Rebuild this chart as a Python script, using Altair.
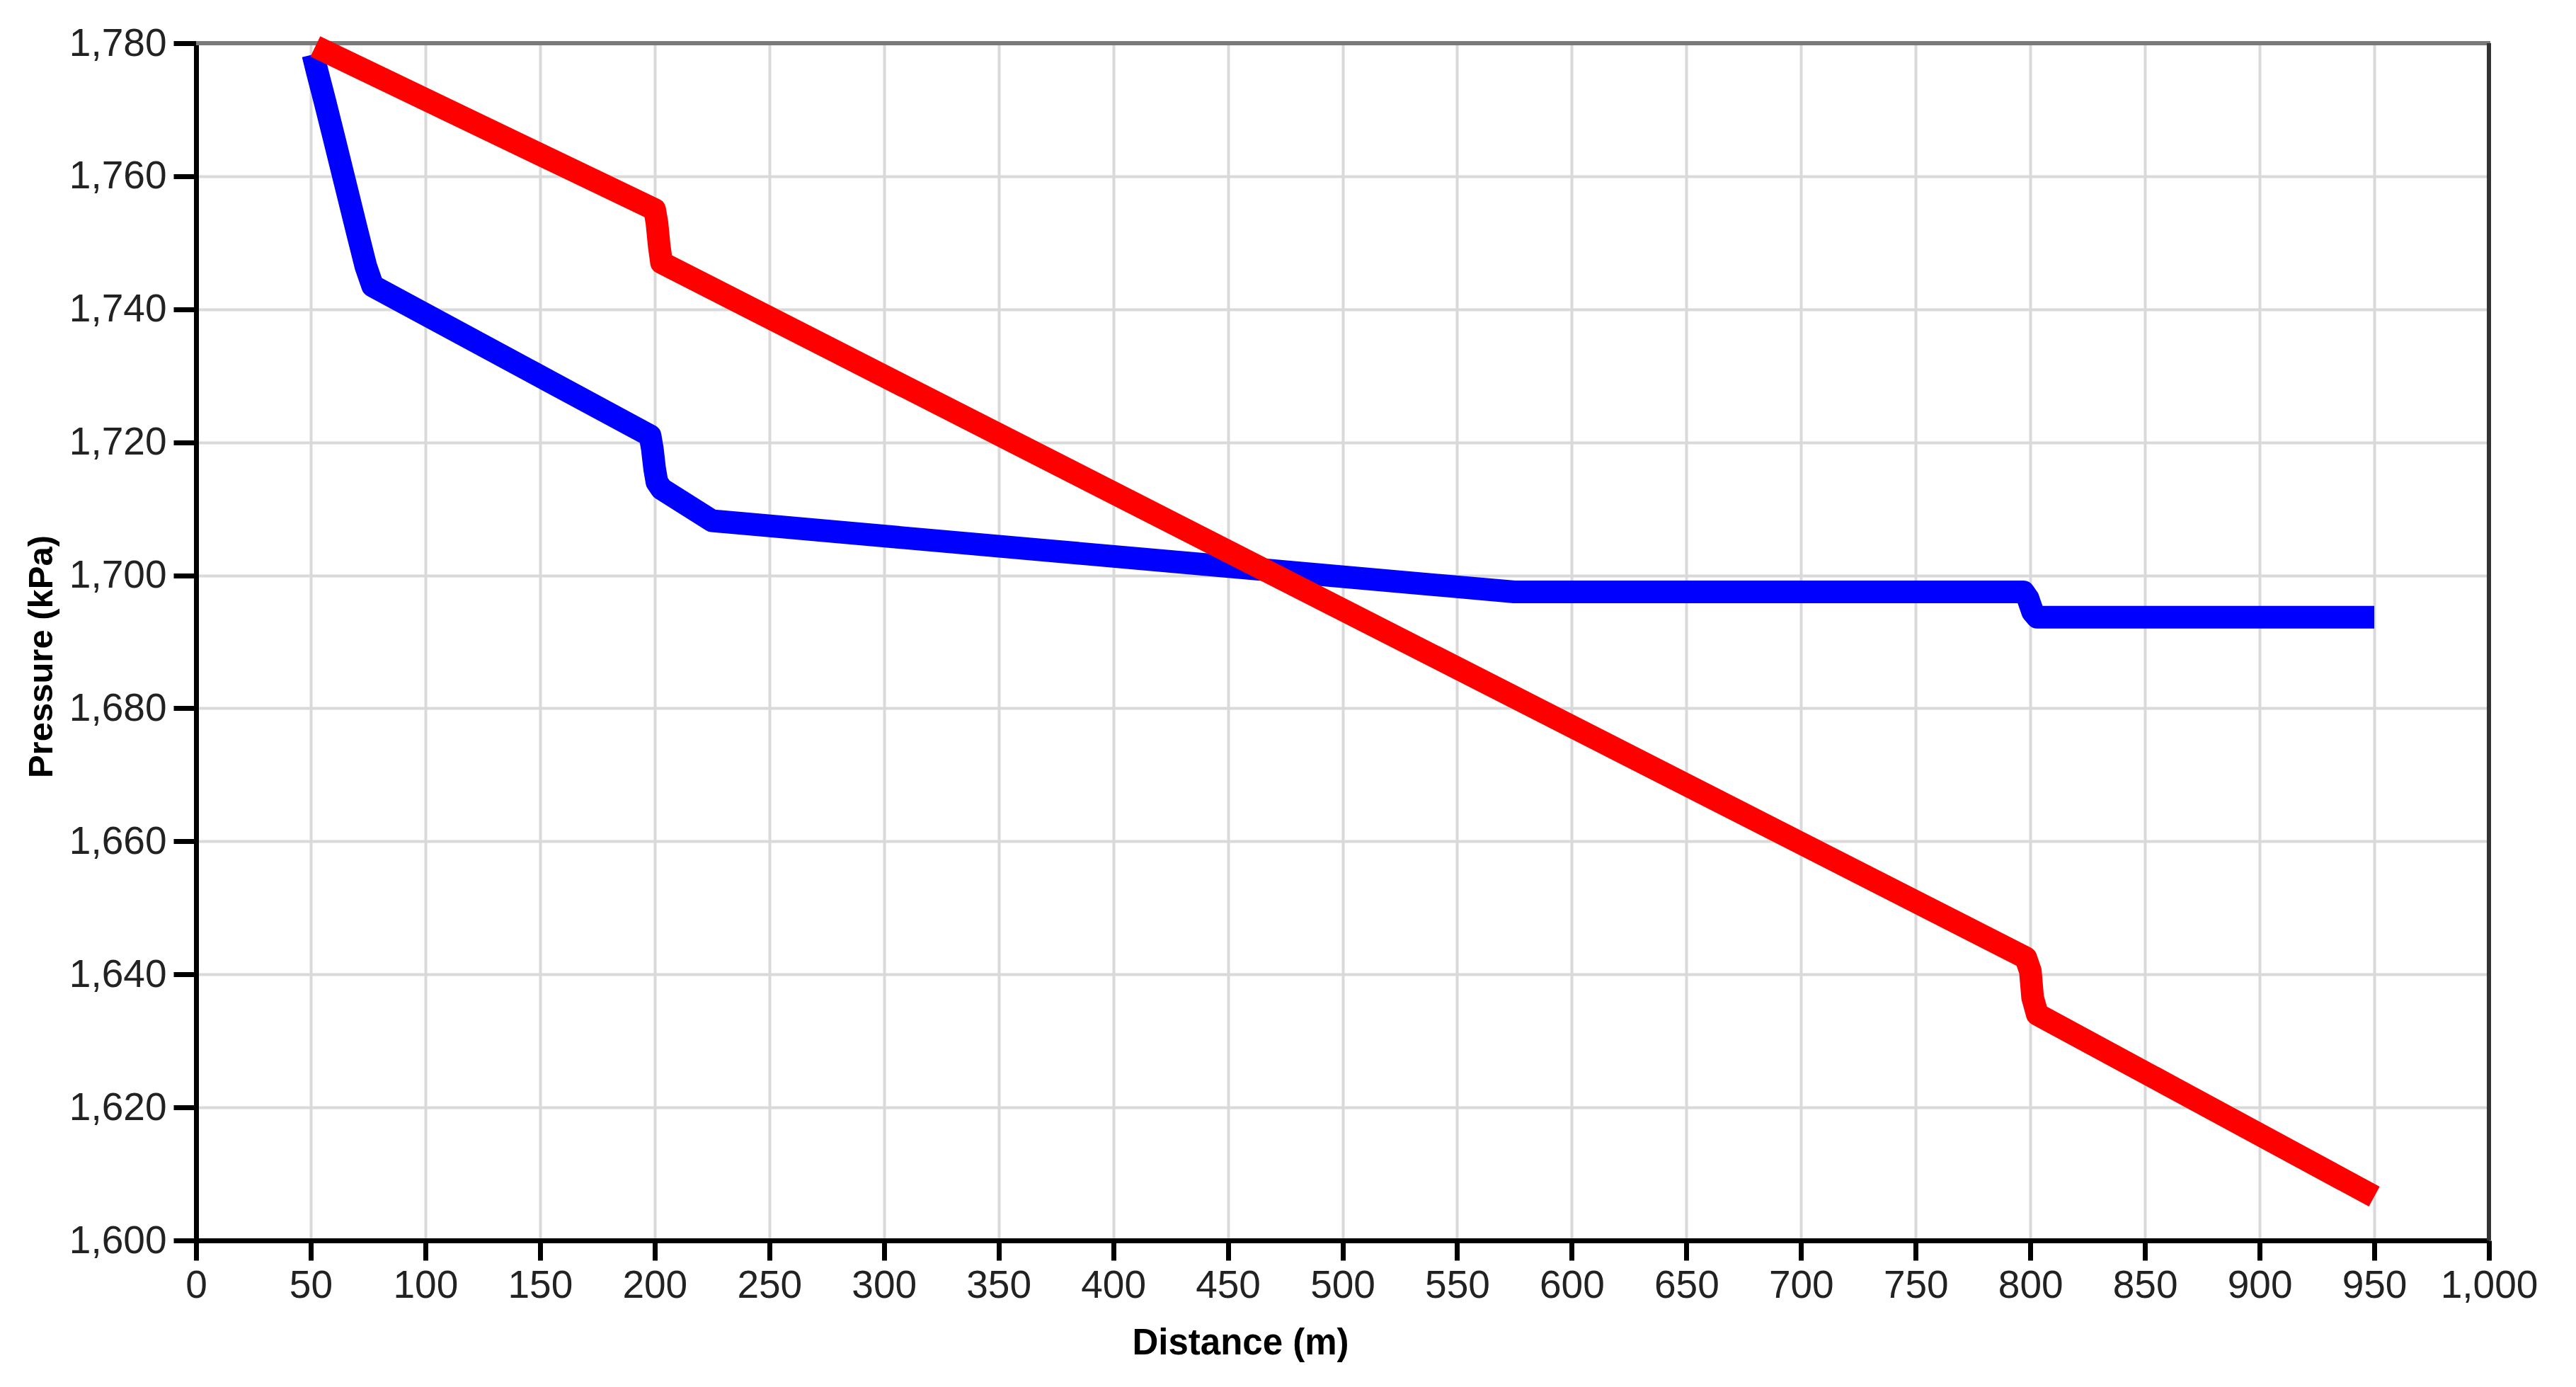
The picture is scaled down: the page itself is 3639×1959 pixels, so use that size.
import altair as alt
import pandas as pd

# Red series (distance m, pressure kPa)
red_x = [52, 200, 201, 202, 203, 798, 800, 801, 803, 950]
red_y = [1779.5, 1755, 1753, 1749.5, 1747, 1642.5, 1640.5, 1636.5, 1634, 1606.6]

# Blue series
blue_x = [51, 53, 56, 60, 65, 70, 74, 77, 198, 199, 200, 201, 203, 225, 575, 797, 799, 801, 803, 950]
blue_y = [1778.3, 1775.5, 1771.5, 1766, 1759, 1752, 1746.5, 1743.5, 1721, 1719, 1716, 1714, 1713, 1708.2, 1697.5, 1697.5, 1696.5, 1694.5, 1693.7, 1693.7]

x_ticks = list(range(0, 1001, 50))
y_ticks = list(range(1600, 1781, 20))

red = pd.DataFrame({"d": red_x, "p": red_y, "s": "red"})
blue = pd.DataFrame({"d": blue_x, "p": blue_y, "s": "blue"})

FONT = "Liberation Sans"

xscale = alt.Scale(domain=[0, 1000], nice=False, zero=False)
yscale = alt.Scale(domain=[1600, 1780], nice=False, zero=False)

xaxis = alt.Axis(
    values=x_ticks, format=",d", title="Distance (m)",
    grid=True, gridColor="#d9d9d9", gridWidth=4,
    domainColor="#000000", domainWidth=7,
    tickColor="#000000", tickWidth=7, tickSize=28,
    labelFont=FONT, labelFontSize=55, labelColor="#222222", labelPadding=9,
    labelOverlap=False, labelFlush=False,
    titleFont=FONT, titleFontSize=51, titleFontWeight="bold", titleColor="#000000",
    titleX=1475, titleY=160, titleAlign="center", titleBaseline="alphabetic",
)
yaxis = alt.Axis(
    values=y_ticks, format=",d", title="Pressure (kPa)",
    grid=True, gridColor="#d9d9d9", gridWidth=4,
    domainColor="#000000", domainWidth=7,
    tickColor="#000000", tickWidth=7, tickSize=32,
    labelFont=FONT, labelFontSize=55, labelColor="#222222", labelPadding=10,
    labelOverlap=False, labelFlush=False,
    titleFont=FONT, titleFontSize=49, titleFontWeight="bold", titleColor="#000000",
    titleX=-219, titleY=866, titleAngle=270, titleAlign="center", titleBaseline="middle",
)

blue_line = alt.Chart(blue).mark_line(
    color="#0000ff", strokeWidth=32, strokeJoin="round", strokeCap="butt"
).encode(
    x=alt.X("d:Q", scale=xscale, axis=xaxis),
    y=alt.Y("p:Q", scale=yscale, axis=yaxis),
    order="d:Q",
)
red_line = alt.Chart(red).mark_line(
    color="#ff0000", strokeWidth=32, strokeJoin="round", strokeCap="butt"
).encode(
    x=alt.X("d:Q", scale=xscale),
    y=alt.Y("p:Q", scale=yscale),
    order="d:Q",
)

top_rule = alt.Chart(pd.DataFrame({"a": [0]})).mark_rule(color="#7a7a7a", strokeWidth=6).encode(
    y=alt.datum(1780, scale=yscale), x=alt.value(0), x2=alt.value(3241)
)
right_rule = alt.Chart(pd.DataFrame({"a": [0]})).mark_rule(color="#333333", strokeWidth=6).encode(
    x=alt.datum(1000, scale=xscale), y=alt.value(0), y2=alt.value(1691)
)

chart = alt.layer(top_rule, right_rule, blue_line, red_line).properties(
    width=3239, height=1691,
    autosize=alt.AutoSizeParams(type="none"),
    padding={"left": 269, "top": 53, "right": 100, "bottom": 200},
    background="#ffffff",
).configure_view(stroke=None)

chart.save("out.html", embed_options={"renderer": "svg", "actions": False})
